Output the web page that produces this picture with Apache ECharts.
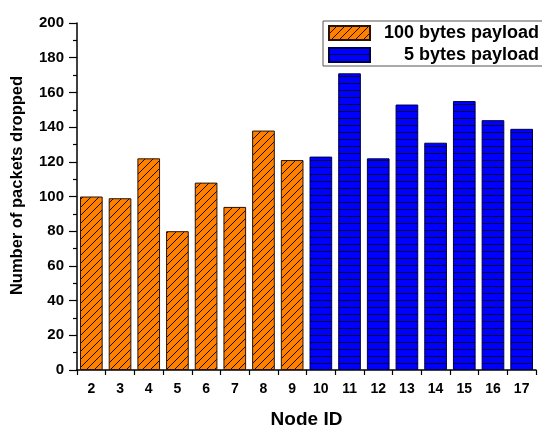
<!DOCTYPE html>
<html><head><meta charset="utf-8">
<script src="https://cdn.jsdelivr.net/npm/echarts@6/dist/echarts.min.js"></script>
<style>html,body{margin:0;padding:0;background:#fff}#c{width:542px;height:426px}</style>
</head><body><div id="c"></div>
<script>
var categories = ['2','3','4','5','6','7','8','9','10','11','12','13','14','15','16','17'];
var payload100 = [100, 99, 122, 80, 108, 94, 138, 121, null, null, null, null, null, null, null, null];
var payload5 = [null, null, null, null, null, null, null, null, 123, 171, 122, 153, 131, 155, 144, 139];
var seriesNames = ['100 bytes payload', '5 bytes payload'];
var yTicks = {min: 0, max: 200, interval: 20};

function diagPattern() {
  var c = document.createElement('canvas'); c.width = 8; c.height = 8;
  var g = c.getContext('2d');
  g.fillStyle = '#FF8000'; g.fillRect(0, 0, 8, 8);
  g.strokeStyle = '#1a0d00'; g.lineWidth = 1;
  g.beginPath(); g.moveTo(-1, 9); g.lineTo(9, -1); g.stroke();
  g.beginPath(); g.moveTo(-1, 1); g.lineTo(1, -1); g.stroke();
  g.beginPath(); g.moveTo(7, 9); g.lineTo(9, 7); g.stroke();
  return c;
}
function horizPattern() {
  var c = document.createElement('canvas'); c.width = 8; c.height = 7;
  var g = c.getContext('2d');
  g.fillStyle = '#0000FF'; g.fillRect(0, 0, 8, 7);
  g.fillStyle = '#000033'; g.fillRect(0, 6, 8, 1);
  return c;
}
var font = '"Liberation Sans", Arial, sans-serif';
var chart = echarts.init(document.getElementById('c'), null, {renderer: 'canvas'});
chart.setOption({
  animation: false,
  backgroundColor: '#fff',
  grid: {left: 77, top: 23, right: 6, bottom: 56, containLabel: false, outerBoundsMode: 'none'},
  legend: {
    left: 323, top: 21, orient: 'vertical', icon: 'rect',
    padding: [3, 10, 2, 5], itemGap: 4, itemWidth: 41, itemHeight: 14,
    borderColor: '#555', borderWidth: 1, backgroundColor: '#fff',
    data: seriesNames,
    formatter: function (n) { return '{a|' + n + '}'; },
    textStyle: {
      rich: {a: {width: 164, align: 'right', lineHeight: 18, fontFamily: font, fontWeight: 'bold', fontSize: 18, color: '#000'}}
    }
  },
  xAxis: [{
    type: 'category', data: categories,
    name: 'Node ID', nameLocation: 'middle', nameGap: 40,
    nameTextStyle: {fontFamily: font, fontWeight: 'bold', fontSize: 19, color: '#000'},
    axisLine: {lineStyle: {color: '#000', width: 1.5}},
    axisTick: {alignWithLabel: true, length: 5, lineStyle: {color: '#000', width: 1.2}},
    axisLabel: {fontFamily: font, fontWeight: 'bold', fontSize: 14, color: '#000', margin: 12},
    splitLine: {show: false}
  }, {
    type: 'category', data: categories, position: 'bottom',
    axisLine: {show: false},
    axisTick: {show: true, length: 5, lineStyle: {color: '#000', width: 1.2}},
    axisLabel: {show: false}, splitLine: {show: false}
  }],
  yAxis: {
    type: 'value', min: yTicks.min, max: yTicks.max, interval: yTicks.interval,
    name: '{s|}Number of packets dropped', nameLocation: 'middle', nameGap: 51,
    nameTextStyle: {fontFamily: font, fontWeight: 'bold', fontSize: 16.5, color: '#000',
      rich: {s: {width: 22}}},
    axisLine: {show: true, lineStyle: {color: '#000', width: 1.5}},
    axisTick: {show: true, length: 8, lineStyle: {color: '#000', width: 1.2}},
    minorTick: {show: true, splitNumber: 2, length: 4, lineStyle: {color: '#000', width: 1.2}},
    axisLabel: {fontFamily: font, fontWeight: 'bold', fontSize: 15, color: '#000', margin: 13},
    splitLine: {show: false}
  },
  series: [{
    name: seriesNames[0], type: 'bar', data: payload100, stack: 's', barCategoryGap: '21%',
    itemStyle: {color: {image: diagPattern(), repeat: 'repeat'}, borderColor: '#2a1200', borderWidth: 1}
  }, {
    name: seriesNames[1], type: 'bar', data: payload5, stack: 's', barCategoryGap: '21%',
    itemStyle: {color: {image: horizPattern(), repeat: 'repeat'}, borderColor: '#000040', borderWidth: 1}
  }]
});
</script></body></html>
